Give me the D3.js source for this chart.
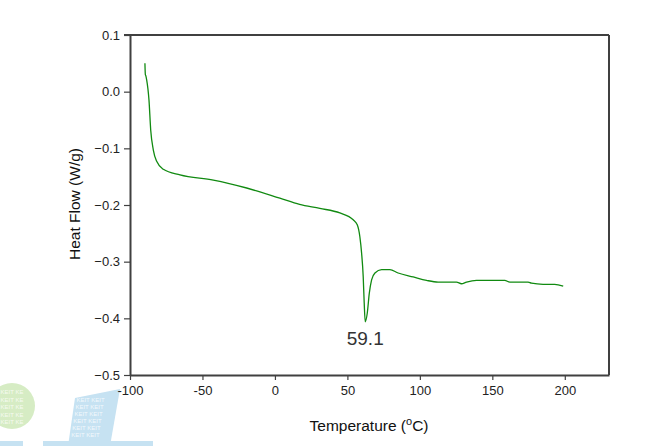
<!DOCTYPE html>
<html>
<head>
<meta charset="utf-8">
<script src="https://cdn.jsdelivr.net/npm/d3@7"></script>
<style>
html,body{margin:0;padding:0;background:#fff;}
svg{display:block;font-family:"Liberation Sans",Arial,sans-serif;}
</style>
</head>
<body>
<svg id="chart" width="647" height="446"></svg>
<script>
// Data
const temperature = [-89.7,-89.4,-89.2,-88.5,-86.9,-85.7,-83.9,-81.6,-77,-65.5,-42.5,-19.5,3.4,17,31,44.8,54,56.8,58.6,59.8,60.9,61.6,62.3,63.7,65.1,66.7,69,73.6,79.3,85,95.4,104.6,112.6,125.3,128.7,132.2,139.1,158.6,162,174.7,177,185,193,198.9];
const heatFlow    = [0.050,0.030,0.029,0.021,-0.015,-0.068,-0.103,-0.123,-0.137,-0.147,-0.156,-0.170,-0.188,-0.199,-0.206,-0.214,-0.226,-0.235,-0.256,-0.285,-0.326,-0.373,-0.406,-0.391,-0.356,-0.332,-0.320,-0.314,-0.314,-0.320,-0.327,-0.333,-0.336,-0.336,-0.339,-0.336,-0.333,-0.333,-0.336,-0.336,-0.338,-0.340,-0.340,-0.343];
const xTicks = [-100,-50,0,50,100,150,200];
const yTicks = [-0.5,-0.4,-0.3,-0.2,-0.1,0.0,0.1];
const peakLabel = "59.1";
const xTitle = "Temperature (";
const yTitle = "Heat Flow (W/g)";
const watermarkWord = "KEIT";

const svg = d3.select("#chart");

// Watermark (background logo)
const wm = svg.append("g");
wm.append("circle").attr("cx",12).attr("cy",406).attr("r",23).attr("fill","#d6ecc4");
wm.append("polygon").attr("points","75,398 120,389 110,446 68,446").attr("fill","#c6e2f2");
wm.append("rect").attr("x",0).attr("y",441).attr("width",23).attr("height",5).attr("fill","#c6e2f2");
wm.append("rect").attr("x",43).attr("y",441).attr("width",110).attr("height",5).attr("fill","#c6e2f2");
for(let r=0;r<5;r++){
  wm.append("text").attr("x",0.5).attr("y",394+r*7.5).attr("font-size",6)
    .attr("fill","#ffffff").attr("fill-opacity",0.8).text(watermarkWord+" "+watermarkWord.slice(0,2));
}
for(let r=0;r<6;r++){
  const yy = 402+r*7;
  const xl = 75-(yy-398)*7/48+2;
  wm.append("text").attr("x",xl).attr("y",yy).attr("font-size",6)
    .attr("fill","#ffffff").attr("fill-opacity",0.8).text(watermarkWord+" "+watermarkWord);
}

const x = d3.scaleLinear().domain([-100,230.5]).range([130,609]);
const y = d3.scaleLinear().domain([-0.5,0.1]).range([375,35]);

const axisColor = "#404040";

const ya = svg.append("g").attr("transform","translate(130,0)")
  .call(d3.axisLeft(y).tickValues(yTicks).tickFormat(d3.format(".1f")).tickSize(6).tickPadding(4).tickSizeOuter(0));
const xa = svg.append("g").attr("transform","translate(0,375)")
  .call(d3.axisBottom(x).tickValues(xTicks).tickFormat(d=>d).tickSize(5).tickPadding(6).tickSizeOuter(0));
[ya,xa].forEach(a=>{
  a.select(".domain").attr("stroke",axisColor).attr("stroke-width",2);
  a.selectAll(".tick line").attr("stroke",axisColor).attr("stroke-width",1.2);
  a.selectAll(".tick text").attr("fill","#222").attr("font-size",13).attr("font-family","Liberation Sans, Arial, sans-serif");
});
svg.append("line").attr("x1",124).attr("x2",x(230.5)).attr("y1",y(0.1)).attr("y2",y(0.1)).attr("stroke",axisColor).attr("stroke-width",2);
svg.append("line").attr("x1",x(230.5)).attr("x2",x(230.5)).attr("y1",y(0.1)).attr("y2",y(-0.5)).attr("stroke",axisColor).attr("stroke-width",2);

// Curve
const pts = temperature.map((t,i)=>[t,heatFlow[i]]);
svg.append("path").datum(pts)
  .attr("fill","none").attr("stroke","#118a11").attr("stroke-width",1.3)
  .attr("d",d3.line().curve(d3.curveMonotoneX).x(d=>x(d[0])).y(d=>y(d[1])));

// Peak annotation
svg.append("text").attr("x",x(62.3)).attr("y",345).attr("text-anchor","middle")
  .attr("font-size",19).attr("fill","#333").text(peakLabel);

// Axis titles
const xt = svg.append("text").attr("x",369).attr("y",431).attr("text-anchor","middle")
  .attr("font-size",15.5).attr("fill","#111");
xt.append("tspan").text(xTitle);
xt.append("tspan").attr("font-size",11).attr("dy",-6).text("o");
xt.append("tspan").attr("dy",6).text("C)");

svg.append("text").attr("transform","translate(80,204) rotate(-90)").attr("text-anchor","middle")
  .attr("font-size",15.5).attr("fill","#111").text(yTitle);
</script>
</body>
</html>
